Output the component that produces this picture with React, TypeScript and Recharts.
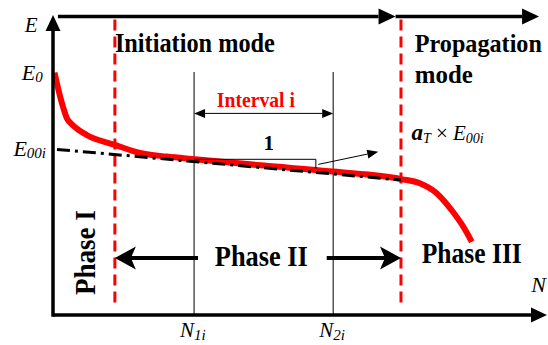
import React from 'react';
import { ComposedChart, Line, XAxis, YAxis, ReferenceLine, ReferenceDot } from 'recharts';

// damage curve E(N) (relative units 0..100)
const cycles = [0.3, 1.8, 2.8, 4.0, 6.8, 12.5, 17.6, 23.0, 28.7, 42.6, 56.6, 70.4, 74.1, 77.5, 80.5, 82.9, 84.6];
const modulus = [80.8, 70.6, 65.6, 63.3, 60.0, 56.7, 54.0, 52.8, 51.9, 49.8, 47.8, 45.3, 43.9, 40.6, 35.0, 29.4, 24.4];

// linear fit through phase II
const fitCycles = [0.8, 70.3];
const fitModulus = [55.2, 45.0];

const phaseBounds = [12.5, 70.3];
const intervalBounds = [28.5, 56.6];
const intervalLabels = ['1i', '2i'];
const modulusTicks = [80.8, 55.2];
const modulusLabels = ['0', '00i'];

// slope triangle
const slopeCycles = [28.5, 53.1, 53.1];
const slopeModulus = [51.9, 51.9, 48.9];

const curveData = cycles.map((n, i) => ({ n, e: modulus[i] }));
const fitData = fitCycles.map((n, i) => ({ n, e: fitModulus[i] }));
const slopeData = slopeCycles.map((n, i) => ({ n, e: slopeModulus[i] }));

const serif = '"Liberation Serif", "Times New Roman", "DejaVu Serif", serif';
const RED = '#ff0000';

const arrow = (color: string, sw: number, len: number, half: number, notch: number, both = false) => (p: any) => {
  const { x1, y1, x2, y2 } = p;
  const dx = x2 - x1;
  const dy = y2 - y1;
  const L = Math.hypot(dx, dy) || 1;
  const ux = dx / L;
  const uy = dy / L;
  const head = (tx: number, ty: number, sx: number, sy: number) => {
    const bx = tx - sx * len;
    const by = ty - sy * len;
    const pts = [
      [tx, ty],
      [bx - sy * half, by + sx * half],
      [tx - sx * (len - notch), ty - sy * (len - notch)],
      [bx + sy * half, by - sx * half],
    ];
    return <polygon points={pts.map((q) => q.join(',')).join(' ')} fill={color} />;
  };
  const inset = len - notch;
  const sx0 = both ? x1 + ux * inset : x1;
  const sy0 = both ? y1 + uy * inset : y1;
  return (
    <g>
      <line x1={sx0} y1={sy0} x2={x2 - ux * inset} y2={y2 - uy * inset} stroke={color} strokeWidth={sw} />
      {head(x2, y2, ux, uy)}
      {both && head(x1, y1, -ux, -uy)}
    </g>
  );
};

const note = (content: React.ReactNode, props: any = {}, rotate = false) => (p: any) => (
  <text
    x={p.cx}
    y={p.cy}
    style={{ fontFamily: serif }}
    fill="#000"
    transform={rotate ? `rotate(-90 ${p.cx} ${p.cy})` : undefined}
    {...props}
  >
    {content}
  </text>
);

const CycleTick = (p: any) => {
  const i = intervalBounds.indexOf(p.payload.value);
  return (
    <text x={p.x - 14} y={p.y + 14} style={{ fontFamily: serif, fontStyle: 'italic' }} fill="#000">
      <tspan fontSize={21}>N</tspan>
      <tspan fontSize={15} dy={3}>{intervalLabels[i]}</tspan>
    </text>
  );
};

const modulusLabel = (sub: string) =>
  note(
    <>
      <tspan fontSize={22}>E</tspan>
      <tspan fontSize={15} dy={2}>{sub}</tspan>
    </>,
    { fontStyle: 'italic', dy: 7 },
  );

// label start offsets (in N units, left of the E axis)
const modulusLabelStart = [-6.3, -8.0];

const bold = { fontWeight: 'bold' };

export default function App() {
  return (
    <div style={{ position: 'absolute', left: 0, top: 0, width: 548, height: 345, background: '#fff' }}>
      <ComposedChart width={548} height={345} data={curveData} margin={{ top: 15, right: 0, bottom: 0, left: 0 }}>
        <XAxis
          type="number"
          dataKey="n"
          domain={[0, 100]}
          ticks={intervalBounds}
          interval={0}
          axisLine={false}
          tickLine={false}
          height={30}
          tick={<CycleTick />}
        />
        <YAxis type="number" domain={[0, 100]} ticks={modulusTicks} axisLine={false} tickLine={false} tick={false} width={53} />

        {/* interval lines */}
        {intervalBounds.map((n) => (
          <ReferenceLine key={'iv' + n} segment={[{ x: n, y: 81 }, { x: n, y: 0 }]} stroke="#000" strokeWidth={1} ifOverflow="visible" />
        ))}

        {/* phase boundaries */}
        {phaseBounds.map((n) => (
          <ReferenceLine
            key={'pb' + n}
            segment={[{ x: n, y: 98.5 }, { x: n, y: 2.2 }]}
            stroke={RED}
            strokeWidth={3}
            strokeDasharray="11 6"
            ifOverflow="visible"
          />
        ))}

        <Line data={curveData} dataKey="e" type="monotone" stroke={RED} strokeWidth={6} strokeLinejoin="round" dot={false} activeDot={false} isAnimationActive={false} />
        <Line data={fitData} dataKey="e" type="linear" stroke="#000" strokeWidth={3} strokeDasharray="13 5 3 5" dot={false} activeDot={false} isAnimationActive={false} />
        <Line data={slopeData} dataKey="e" type="linear" stroke="#000" strokeWidth={1} dot={false} activeDot={false} isAnimationActive={false} />

        {/* axes */}
        <ReferenceLine segment={[{ x: 0, y: -0.6 }, { x: 0, y: 100 }]} ifOverflow="visible" shape={arrow('#000', 3.5, 16, 7.5, 0)} />
        <ReferenceLine segment={[{ x: 0, y: 0 }, { x: 99.8, y: 0 }]} ifOverflow="visible" shape={arrow('#000', 3.5, 16, 7.5, 0)} />

        {/* mode arrows on top */}
        <ReferenceLine segment={[{ x: 1, y: 99.5 }, { x: 69.2, y: 99.5 }]} ifOverflow="visible" shape={arrow('#000', 3.5, 17, 8, 0)} />
        <ReferenceLine segment={[{ x: 69.2, y: 99.5 }, { x: 98.2, y: 99.5 }]} ifOverflow="visible" shape={arrow('#000', 3.5, 17, 8, 0)} />

        {/* interval arrow */}
        <ReferenceLine segment={[{ x: intervalBounds[0], y: 67.2 }, { x: intervalBounds[1], y: 67.2 }]} ifOverflow="visible" shape={arrow('#000', 1, 11, 4.5, 0, true)} />

        {/* slope arrow */}
        <ReferenceLine segment={[{ x: 53.6, y: 50.2 }, { x: 65.7, y: 54.4 }]} ifOverflow="visible" shape={arrow('#000', 1, 11, 4.5, 0)} />

        {/* phase II arrows */}
        <ReferenceLine segment={[{ x: 29.3, y: 19 }, { x: phaseBounds[0], y: 19 }]} ifOverflow="visible" shape={arrow('#000', 4, 21, 11.5, 5)} />
        <ReferenceLine segment={[{ x: 55.3, y: 19 }, { x: phaseBounds[1], y: 19 }]} ifOverflow="visible" shape={arrow('#000', 4, 21, 11.5, 5)} />

        {/* E axis labels */}
        {modulusTicks.map((e, i) => (
          <ReferenceDot key={'et' + i} x={modulusLabelStart[i]} y={e} ifOverflow="visible" shape={modulusLabel(modulusLabels[i])} />
        ))}

        {/* labels */}
        <ReferenceDot x={-5.7} y={94.3} ifOverflow="visible" shape={note('E', { fontSize: 21, fontStyle: 'italic' })} />
        <ReferenceDot x={96.6} y={7.8} ifOverflow="visible" shape={note('N', { fontSize: 22, fontStyle: 'italic' })} />
        <ReferenceDot
          x={12.5}
          y={87.8}
          ifOverflow="visible"
          shape={note('Initiation mode', { ...bold, fontSize: 27, textLength: 160, lengthAdjust: 'spacingAndGlyphs' })}
        />
        <ReferenceDot
          x={73.1}
          y={87.7}
          ifOverflow="visible"
          shape={note('Propagation', { ...bold, fontSize: 25, textLength: 127, lengthAdjust: 'spacingAndGlyphs' })}
        />
        <ReferenceDot
          x={73.1}
          y={77.3}
          ifOverflow="visible"
          shape={note('mode', { ...bold, fontSize: 25, textLength: 58, lengthAdjust: 'spacingAndGlyphs' })}
        />
        <ReferenceDot
          x={33.1}
          y={69.4}
          ifOverflow="visible"
          shape={note('Interval i', { ...bold, fontSize: 21, fill: RED, textLength: 78, lengthAdjust: 'spacingAndGlyphs' })}
        />
        <ReferenceDot x={43.6} y={55} ifOverflow="visible" shape={note('1', { ...bold, fontSize: 21, textAnchor: 'middle' })} />
        <ReferenceDot
          x={72.4}
          y={58.3}
          ifOverflow="visible"
          shape={note(
            <>
              <tspan fontSize={23} fontWeight="bold" fontStyle="italic">a</tspan>
              <tspan fontSize={14} fontStyle="italic" dy={3}>T</tspan>
              <tspan fontSize={21} dy={-3}> × </tspan>
              <tspan fontSize={21} fontStyle="italic">E</tspan>
              <tspan fontSize={14} fontStyle="italic" dy={3}>00i</tspan>
            </>,
          )}
        />
        <ReferenceDot
          x={8.5}
          y={20.8}
          ifOverflow="visible"
          shape={note('Phase I', { ...bold, fontSize: 30, textAnchor: 'middle', textLength: 85, lengthAdjust: 'spacingAndGlyphs' }, true)}
        />
        <ReferenceDot
          x={32.7}
          y={16.3}
          ifOverflow="visible"
          shape={note('Phase II', { ...bold, fontSize: 30, textLength: 93, lengthAdjust: 'spacingAndGlyphs' })}
        />
        <ReferenceDot
          x={74.5}
          y={17.4}
          ifOverflow="visible"
          shape={note('Phase III', { ...bold, fontSize: 29, textLength: 100, lengthAdjust: 'spacingAndGlyphs' })}
        />
      </ComposedChart>
    </div>
  );
}
